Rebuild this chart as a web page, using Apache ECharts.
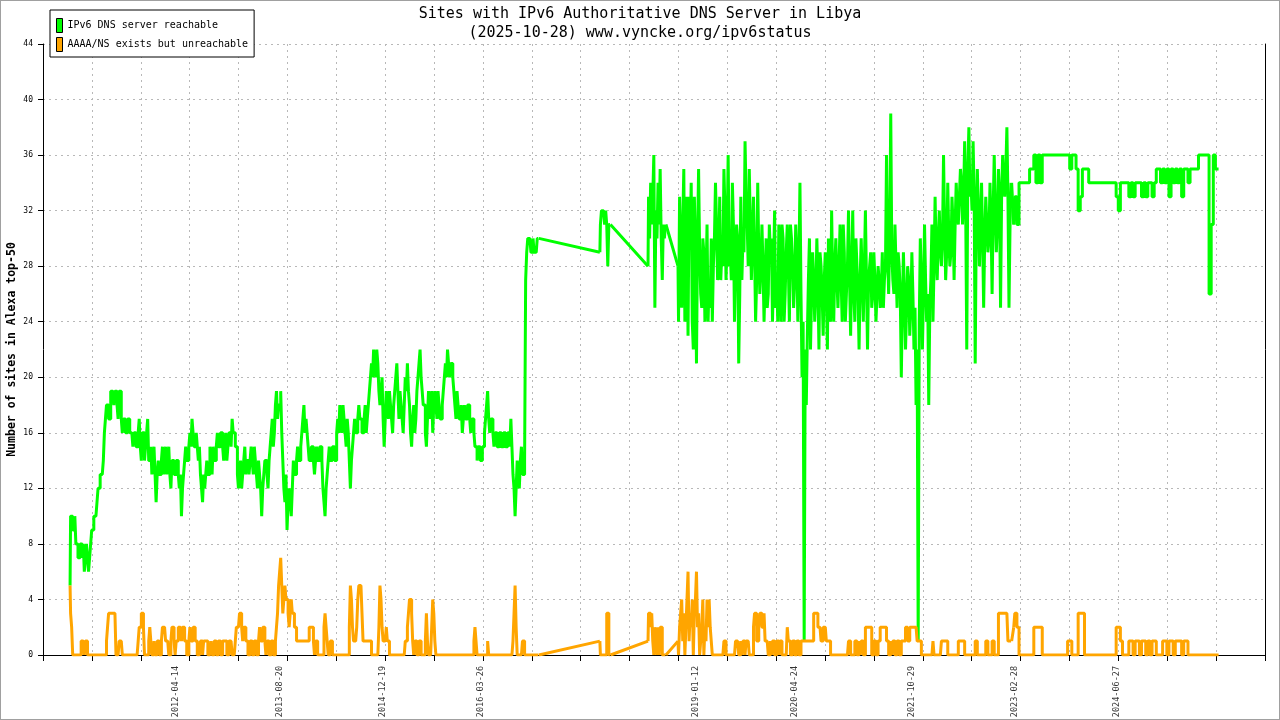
<!DOCTYPE html>
<html>
<head>
<meta charset="utf-8">
<title>IPv6 DNS Libya</title>
<script src="https://cdn.jsdelivr.net/npm/echarts/dist/echarts.min.js"></script>
<style>
  html, body { margin: 0; padding: 0; background: #fff; }
  #wrap { position: relative; width: 1280px; height: 720px; }
  #main { width: 1280px; height: 720px; }
  #frame { position: absolute; left: 0; top: 0; width: 1278px; height: 718px; border: 1px solid #a0a0a0; pointer-events: none; }
</style>
</head>
<body>
<div id="wrap"><div id="main"></div><div id="frame"></div></div>
<script>
var DAY = 86400000;

// data segments, each: start date + step in days
var segStart = ['2010-11-30', '2017-10-13', '2018-05-29', '2018-10-18', '2023-02-24'];
var segStep = [5, 5, 5, 5, 10];

// readings every 10 days, plus the reading 5 days after each (…mid arrays)
var greenA = [
  5,10,9,8,7,8,7,6,8,6,
  8,9,10,11,12,13,14,17,18,17,
  19,18,19,17,19,16,17,16,17,16,
  15,16,15,17,14,16,15,17,14,13,
  15,11,14,13,15,14,13,15,12,14,
  13,14,12,10,13,15,14,16,17,15,
  16,14,13,11,12,14,13,14,15,14,
  16,15,16,14,16,15,16,17,16,15,
  12,14,13,15,14,13,15,13,14,12,
  13,10,13,14,12,15,17,16,19,18,
  19,14,11,9,12,10,14,13,15,14,
  16,18,17,15,14,15,13,15,14,15,
  12,10,13,15,14,15,14,17,18,16,
  17,15,16,12,15,17,16,18,17,16,
  18,17,19,21,22,20,21,18,20,15,
  19,17,18,16,19,21,17,18,16,20,
  21,18,15,18,17,20,22,19,18,15,
  19,18,16,19,17,18,17,19,21,22,
  20,21,19,17,18,17,16,18,17,18,
  16,17,15,14,15,14,15,17,19,16,
  17,15,16,15,16,15,16,15,16,17,
  13,10,14,12,15,13,27,30,30,29,
  29,29,30
];
var greenAmid = [
  10,9,10,8,7,8,8,7,7,7,
  9,10,10,12,13,13,16,18,17,19,
  19,19,18,19,17,17,16,17,16,16,
  16,15,16,15,16,14,16,14,15,14,
  13,13,13,14,13,15,14,13,14,13,
  14,13,13,12,14,14,15,15,16,15,
  15,15,12,13,13,13,15,13,14,15,
  15,16,15,15,14,16,15,16,15,13,
  13,12,14,13,14,14,14,15,13,14,
  12,12,14,13,14,16,15,18,17,18,
  16,12,13,11,11,12,13,14,14,15,
  17,16,16,14,15,14,14,14,15,14,
  11,12,14,14,15,14,16,16,17,18,
  16,17,14,14,16,16,17,17,16,17,
  16,18,20,20,21,22,19,19,17,17,
  18,19,17,18,20,19,19,17,18,19,
  19,16,17,16,19,21,20,18,16,17,
  17,19,18,18,19,17,18,20,20,21,
  21,20,18,19,17,18,17,17,18,17,
  17,16,15,15,14,15,16,18,17,17,
  16,16,15,16,15,16,15,16,15,15,
  12,12,13,14,13,14,29,30,29,30,
  29,30
];
var orangeA = [
  5,2,0,0,0,0,1,0,1,0,
  0,0,0,0,0,0,0,0,2,3,
  3,3,0,0,1,0,0,0,0,0,
  0,0,0,2,3,2,0,0,2,0,
  1,0,1,0,2,2,1,0,1,2,
  0,1,2,1,2,1,0,2,1,2,
  1,0,1,0,1,1,0,1,0,1,
  0,1,0,1,1,0,1,0,0,2,
  2,3,1,2,1,0,1,0,1,0,
  2,1,2,0,1,0,1,0,2,5,
  7,3,5,4,2,4,3,2,1,1,
  1,1,1,1,2,2,0,1,0,0,
  0,3,1,0,1,0,0,0,0,0,
  0,0,0,5,2,1,2,5,5,1,
  1,1,1,0,0,0,0,5,2,1,
  2,1,0,0,0,0,0,0,0,1,
  2,4,3,0,1,0,1,0,0,3,
  0,0,4,1,0,0,0,0,0,0,
  0,0,0,0,0,0,0,0,0,0,
  0,0,2,0,0,0,0,0,1,0,
  0,0,0,0,0,0,0,0,0,0,
  1,5,0,0,0,1,0,0,0,0,
  0,0,0
];
var orangeAmid = [
  3,0,0,0,0,1,1,1,0,0,
  0,0,0,0,0,0,0,1,3,3,
  3,3,0,1,1,0,0,0,0,0,
  0,0,1,2,3,0,0,1,1,0,
  0,1,0,1,2,1,1,0,2,1,
  1,2,2,2,1,0,1,1,2,1,
  0,0,1,1,1,0,0,0,1,0,
  1,0,1,1,0,1,1,0,1,2,
  3,2,2,1,0,1,0,1,0,1,
  1,2,1,1,0,1,0,1,3,6,
  5,4,4,3,3,3,2,1,1,1,
  1,1,1,2,2,1,1,0,0,0,
  2,2,0,1,0,0,0,0,0,0,
  0,0,2,4,1,1,4,5,3,1,
  1,1,1,0,0,0,2,4,1,1,
  1,0,0,0,0,0,0,0,0,1,
  3,4,1,1,0,1,0,0,1,1,
  0,2,3,0,0,0,0,0,0,0,
  0,0,0,0,0,0,0,0,0,0,
  0,1,1,0,0,0,0,0,0,0,
  0,0,0,0,0,0,0,0,0,0,
  3,2,0,0,1,0,0,0,0,0,
  0,0
];

var greenB = [29,31,32,32,32,31,32,31,28,31,31];
var orangeB = [1,0,0,0,0,0,0,3,3,0,0];

var greenC = [28,33,30,34,31,33,36,25,32,30,34,31,35,30,27,31,30,31];
var orangeC = [1,3,3,2,3,1,0,2,1,0,2,0,2,2,0,0,0,0];

var greenD1 = [
  28,33,25,35,27,23,30,24,33,21,
  35,26,30,24,31,27,30,28,34,27,
  33,29,35,27,36,29,34,24,31,21,
  33,30,37,31,35,27,33,24,34,26,
  31,24,30,26,29,24,32,27,31,24,
  30,26,31,24,30,25,31,24,34,20,
  1,18,27,22,29,24,30,22,28,23,
  29,22,28,32,24,30,25,31,24,29,
  26,32,23,32,24,28,22,30,24,32,
  22,28,25,29,24,28,25,29,27,36,
  26,39,27,31,25,28,20,29,22,28,
  23,29,22,18,1,30,22,31,24,18,
  27,24,33,27,32,28,36,27,34,28,
  33,27,34,31,35,31,37,22,38,34,
  37,21,35,28,34,25,33,29,34,26,
  36,29,35,25,36,33,38,25,34
];
var greenD1mid = [
  24,29,31,24,33,33,34,22,29,30,
  29,25,29,27,24,25,24,30,31,28,
  27,28,32,30,28,27,31,28,30,26,
  27,29,33,28,31,30,29,27,29,28,
  28,27,25,31,30,28,25,24,29,31,
  24,29,28,31,28,27,29,28,26,24,
  22,23,30,26,27,26,27,29,26,27,
  26,30,24,27,28,27,28,27,31,24,
  28,27,28,26,30,26,27,27,28,27,
  27,29,26,27,26,27,26,25,28,29,
  30,29,26,28,29,26,25,26,25,27,
  25,26,25,22,24,27,26,27,26,25,
  31,28,29,30,29,30,31,29,30,29,
  31,31,32,33,34,33,32,35,33,32,
  33,31,32,31,30,30,31,30,31,32,
  32,31,33,33,34,35,33,31
];
var orangeD1 = [
  1,2,4,3,2,6,3,4,3,6,
  3,1,4,2,4,4,1,0,0,0,
  0,0,1,0,0,0,0,0,1,0,
  1,1,0,1,0,0,2,3,1,3,
  2,3,1,0,1,1,0,1,0,1,
  0,0,2,1,0,1,0,1,0,1,
  1,1,1,1,1,3,3,2,1,2,
  2,1,1,0,0,0,0,0,0,0,
  0,1,0,0,1,0,1,1,0,2,
  2,2,0,1,0,1,2,2,2,1,
  0,1,1,0,1,0,1,1,2,1,
  2,2,2,2,1,1,0,0,0,0,
  0,1,0,0,0,1,1,1,0,0,
  0,0,0,1,1,1,0,0,0,0,
  0,1,0,0,0,0,1,0,0,1,
  0,0,3,3,3,3,3,1,1
];
var orangeD1mid = [
  0,3,1,0,4,1,2,0,4,2,
  0,2,0,1,2,2,0,0,0,0,
  0,0,1,0,0,0,0,1,1,0,
  0,1,1,1,0,0,3,1,2,3,
  2,1,1,0,0,1,0,1,1,0,
  0,0,1,0,1,0,1,0,1,1,
  1,1,1,1,3,3,2,2,1,2,
  1,1,0,0,0,0,0,0,0,0,
  0,1,0,0,1,0,0,1,0,2,
  2,2,0,1,0,1,2,2,2,1,
  0,0,1,0,1,0,1,1,2,1,
  2,2,2,1,1,0,0,0,0,0,
  0,0,0,0,0,1,1,1,0,0,
  0,0,0,1,1,1,0,0,0,0,
  0,1,0,0,0,0,1,0,0,1,
  0,0,3,3,3,3,1,1
];

var greenD2 = [
  31,
  33,31,34,34,34,34,34,35,35,36,
  34,36,34,36,36,36,36,36,36,36,
  36,36,36,36,36,36,35,36,36,35,
  32,33,35,35,35,34,34,34,34,34,
  34,34,34,34,34,34,34,34,33,32,
  34,34,34,34,33,34,33,34,34,34,
  33,34,33,34,34,33,34,35,35,34,
  35,34,35,33,35,34,35,34,35,33,
  35,35,34,35,35,35,35,36,36,36,
  36,36,26,31,36,35,35
];
var orangeD2 = [
  2,
  3,2,0,0,0,0,0,0,0,2,
  2,2,2,0,0,0,0,0,0,0,
  0,0,0,0,0,1,1,0,0,0,
  3,3,3,0,0,0,0,0,0,0,
  0,0,0,0,0,0,0,0,2,2,
  1,0,0,0,1,1,0,1,1,0,
  1,1,0,1,0,1,1,0,0,0,
  1,1,0,1,1,0,1,1,1,0,
  1,1,0,0,0,0,0,0,0,0,
  0,0,0,0,0,0,0
];

var tickDates = ['2012-04-14', '2013-08-20', '2014-12-19', '2016-03-26', '2019-01-12',
  '2020-04-24', '2021-10-29', '2023-02-28', '2024-06-27'];

var seriesNames = ['IPv6 DNS server reachable', 'AAAA/NS exists but unreachable'];

function toMs(s) { return Date.parse(s + 'T00:00:00Z'); }
function build(values, seg) {
  var t0 = toMs(segStart[seg]);
  return values.map(function (v, i) { return [t0 + i * segStep[seg] * DAY, v]; });
}
function interleave(a, m) {
  var out = [];
  a.forEach(function (v, i) { out.push(v); if (i < m.length) out.push(m[i]); });
  return out;
}

// segments are drawn as steps, the periods between them as plain lines
function stepped(parts) {
  var out = [];
  parts.forEach(function (p, k) {
    if (k > 0) out.push(null);
    out = out.concat(p);
  });
  return out;
}
function bridges(parts) {
  var out = [];
  for (var k = 1; k < parts.length; k++) {
    out.push(parts[k - 1][parts[k - 1].length - 1], parts[k][0], null);
  }
  return out;
}

var greenParts = [build(interleave(greenA, greenAmid), 0), build(greenB, 1), build(greenC, 2),
  build(interleave(greenD1, greenD1mid), 3), build(greenD2, 4)];
var orangeParts = [build(interleave(orangeA, orangeAmid), 0), build(orangeB, 1), build(orangeC, 2),
  build(interleave(orangeD1, orangeD1mid), 3), build(orangeD2, 4)];

var mono = 'DejaVu Sans Mono';
var gridLine = { show: true, lineStyle: { color: '#b8b8b8', type: [2, 4], width: 1 } };
var GREEN = '#00ff00', ORANGE = '#ffa500';

var myChart = echarts.init(document.getElementById('main'));
option = {
  animation: false,
  backgroundColor: '#fff',
  title: {
    text: 'Sites with IPv6 Authoritative DNS Server in Libya\n(2025-10-28) www.vyncke.org/ipv6status',
    left: 'center',
    top: 0,
    textStyle: { fontFamily: mono, fontSize: 15, fontWeight: 'normal', color: '#000', lineHeight: 19 }
  },
  legend: {
    data: seriesNames,
    orient: 'vertical',
    left: 50,
    top: 10,
    padding: [8, 6, 5, 6],
    itemGap: 4,
    itemWidth: 6,
    itemHeight: 14,
    icon: 'rect',
    backgroundColor: '#fff',
    borderColor: '#000',
    borderWidth: 1,
    borderRadius: 0,
    itemStyle: { borderColor: '#000', borderWidth: 1 },
    textStyle: { fontFamily: mono, fontSize: 10, color: '#000' }
  },
  grid: { left: 43, right: 15, top: 44, bottom: 65, containLabel: false, outerBoundsMode: 'none' },
  xAxis: {
    type: 'value',
    min: 1280000000000,
    max: 1780000000000,
    interval: 20000000000,
    axisLine: { show: true, onZero: false, lineStyle: { color: '#000', width: 1 } },
    axisTick: { show: true, inside: false, length: 6, lineStyle: { color: '#000' } },
    axisLabel: { show: false },
    splitLine: gridLine
  },
  yAxis: [{
    type: 'value',
    min: 0,
    max: 44,
    interval: 4,
    name: 'Number of sites in Alexa top-50',
    nameLocation: 'middle',
    nameGap: 25,
    nameMoveOverlap: false,
    nameTextStyle: { fontFamily: mono, fontSize: 11.5, fontWeight: 'bold', color: '#000' },
    axisLine: { show: true, lineStyle: { color: '#000', width: 1 } },
    axisTick: { show: true, inside: false, length: 5, lineStyle: { color: '#000' } },
    axisLabel: { fontFamily: mono, fontSize: 8, color: '#000', margin: 10 },
    splitLine: gridLine
  }, {
    type: 'value',
    min: 0,
    max: 44,
    interval: 4,
    position: 'right',
    axisLine: { show: true, lineStyle: { color: '#000', width: 1 } },
    axisTick: { show: false },
    axisLabel: { show: false },
    splitLine: { show: false }
  }],
  series: [{
    name: seriesNames[0],
    type: 'line',
    data: stepped(greenParts),
    step: 'middle',
    connectNulls: false,
    showSymbol: false,
    symbol: 'none',
    color: GREEN,
    lineStyle: { color: GREEN, width: 3 },
    z: 2
  }, {
    name: 'green-gaps',
    type: 'line',
    data: bridges(greenParts),
    showSymbol: false,
    symbol: 'none',
    color: GREEN,
    lineStyle: { color: GREEN, width: 3 },
    z: 2
  }, {
    name: seriesNames[1],
    type: 'line',
    data: stepped(orangeParts),
    step: 'middle',
    connectNulls: false,
    showSymbol: false,
    symbol: 'none',
    color: ORANGE,
    lineStyle: { color: ORANGE, width: 3 },
    z: 3
  }, {
    name: 'orange-gaps',
    type: 'line',
    data: bridges(orangeParts),
    showSymbol: false,
    symbol: 'none',
    color: ORANGE,
    lineStyle: { color: ORANGE, width: 3 },
    z: 3
  }, {
    name: 'dates',
    type: 'scatter',
    data: tickDates.map(function (d) { return [toMs(d), 0]; }),
    symbolSize: 0,
    silent: true,
    clip: false,
    label: {
      show: true,
      formatter: function (p) { return tickDates[p.dataIndex]; },
      position: 'bottom',
      distance: 11,
      rotate: 90,
      align: 'right',
      verticalAlign: 'middle',
      fontFamily: mono,
      fontSize: 8.5,
      color: '#000'
    }
  }]
};
myChart.setOption(option);
</script>
</body>
</html>
